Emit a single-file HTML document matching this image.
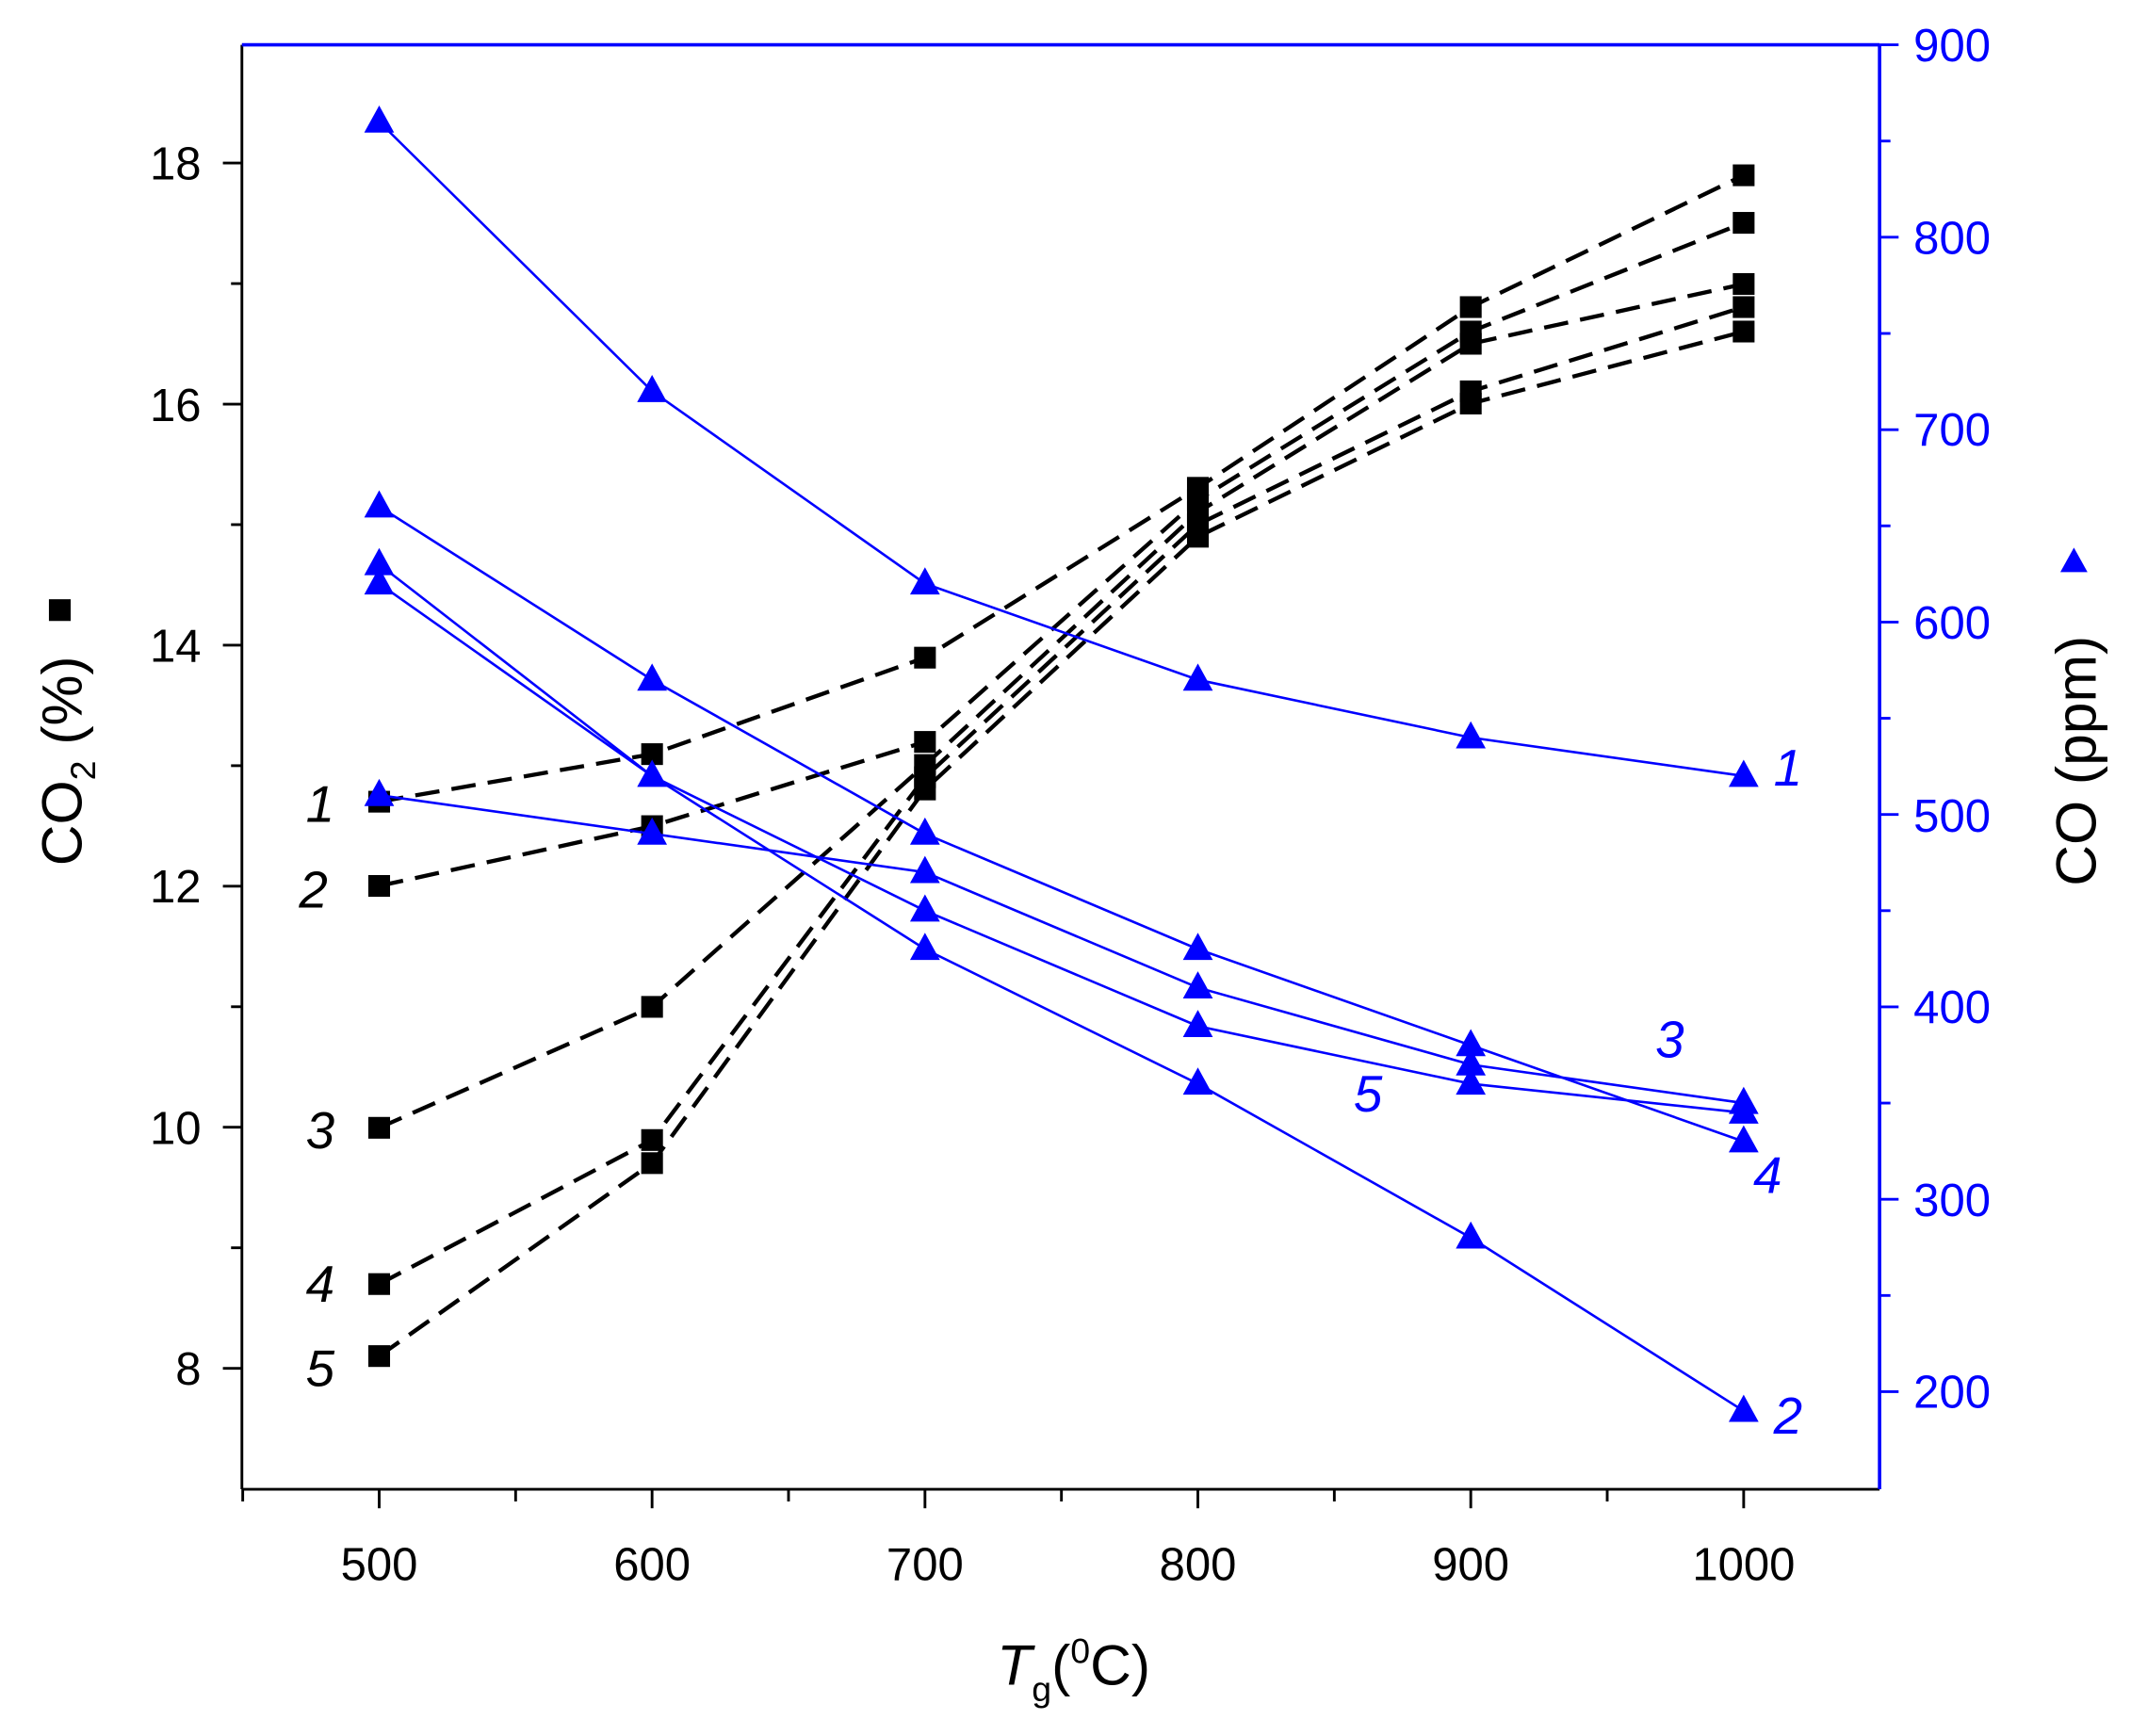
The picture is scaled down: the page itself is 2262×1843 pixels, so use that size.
<!DOCTYPE html>
<html><head><style>html,body{margin:0;padding:0;background:#fff}svg{display:block}</style></head>
<body>
<svg width="2262" height="1843" viewBox="0 0 1568 1277.6" preserveAspectRatio="none" xmlns="http://www.w3.org/2000/svg" font-family="Liberation Sans, Arial, sans-serif">
<rect width="1568" height="1277.6" fill="#fff"/>
<line x1="178" y1="33" x2="178" y2="1096" stroke="#000" stroke-width="2"/>
<line x1="178" y1="1096" x2="1383" y2="1096" stroke="#000" stroke-width="2"/>
<line x1="178" y1="33" x2="1383" y2="33" stroke="#00f" stroke-width="2.5"/>
<line x1="1383" y1="33" x2="1383" y2="1096" stroke="#00f" stroke-width="2.5"/>
<g stroke-width="2">
<g stroke="#000">
<line x1="178.6" y1="1096" x2="178.6" y2="1105"/><line x1="279" y1="1096" x2="279" y2="1110"/>
<line x1="379.4" y1="1096" x2="379.4" y2="1105"/><line x1="479.8" y1="1096" x2="479.8" y2="1110"/>
<line x1="580.2" y1="1096" x2="580.2" y2="1105"/><line x1="680.6" y1="1096" x2="680.6" y2="1110"/>
<line x1="781" y1="1096" x2="781" y2="1105"/><line x1="881.4" y1="1096" x2="881.4" y2="1110"/>
<line x1="981.8" y1="1096" x2="981.8" y2="1105"/><line x1="1082.2" y1="1096" x2="1082.2" y2="1110"/>
<line x1="1182.6" y1="1096" x2="1182.6" y2="1105"/><line x1="1283" y1="1096" x2="1283" y2="1110"/>
<line x1="164" y1="120" x2="178" y2="120"/><line x1="170" y1="208.7" x2="178" y2="208.7"/>
<line x1="164" y1="297.4" x2="178" y2="297.4"/><line x1="170" y1="386.1" x2="178" y2="386.1"/>
<line x1="164" y1="474.8" x2="178" y2="474.8"/><line x1="170" y1="563.5" x2="178" y2="563.5"/>
<line x1="164" y1="652.2" x2="178" y2="652.2"/><line x1="170" y1="740.9" x2="178" y2="740.9"/>
<line x1="164" y1="829.6" x2="178" y2="829.6"/><line x1="170" y1="918.3" x2="178" y2="918.3"/>
<line x1="164" y1="1007" x2="178" y2="1007"/>
</g>
<g stroke="#00f">
<line x1="1383" y1="33" x2="1397" y2="33"/><line x1="1383" y1="103.8" x2="1391" y2="103.8"/>
<line x1="1383" y1="174.6" x2="1397" y2="174.6"/><line x1="1383" y1="245.4" x2="1391" y2="245.4"/>
<line x1="1383" y1="316.2" x2="1397" y2="316.2"/><line x1="1383" y1="387" x2="1391" y2="387"/>
<line x1="1383" y1="457.8" x2="1397" y2="457.8"/><line x1="1383" y1="528.6" x2="1391" y2="528.6"/>
<line x1="1383" y1="599.4" x2="1397" y2="599.4"/><line x1="1383" y1="670.2" x2="1391" y2="670.2"/>
<line x1="1383" y1="741" x2="1397" y2="741"/><line x1="1383" y1="811.8" x2="1391" y2="811.8"/>
<line x1="1383" y1="882.6" x2="1397" y2="882.6"/><line x1="1383" y1="953.4" x2="1391" y2="953.4"/>
<line x1="1383" y1="1024.2" x2="1397" y2="1024.2"/>
</g>
</g>
<g font-size="34" fill="#000" text-anchor="middle">
<text x="279" y="1163">500</text><text x="479.8" y="1163">600</text><text x="680.6" y="1163">700</text>
<text x="881.4" y="1163">800</text><text x="1082.2" y="1163">900</text><text x="1283" y="1163">1000</text>
</g>
<g font-size="34" fill="#000" text-anchor="end">
<text x="148" y="132">18</text><text x="148" y="310">16</text><text x="148" y="487">14</text>
<text x="148" y="664">12</text><text x="148" y="842">10</text><text x="148" y="1019">8</text>
</g>
<g font-size="34" fill="#00f" text-anchor="start">
<text x="1408" y="45">900</text><text x="1408" y="187">800</text><text x="1408" y="328">700</text>
<text x="1408" y="470">600</text><text x="1408" y="612">500</text><text x="1408" y="753">400</text>
<text x="1408" y="895">300</text><text x="1408" y="1036">200</text>
</g>
<text x="790" y="1240" font-size="42" text-anchor="middle"><tspan font-style="italic">T</tspan><tspan font-size="26" dy="12">g</tspan><tspan dy="-12">(</tspan><tspan font-size="26" dy="-16">0</tspan><tspan dy="16">C)</tspan></text>
<g transform="translate(60,560) rotate(-90)"><text x="0" y="0" font-size="42" text-anchor="middle">CO<tspan font-size="26" dy="10">2</tspan><tspan dy="-10"> (%)</tspan></text></g>
<rect x="36" y="441" width="16" height="16" fill="#000"/>
<g transform="translate(1542,560) rotate(-90)"><text x="0" y="0" font-size="42" text-anchor="middle">CO (ppm)</text></g>
<polygon points="1526,403 1516,421 1536,421" fill="#00f"/>
<g fill="none" stroke="#000" stroke-width="3" stroke-dasharray="18,9">
<polyline points="279,590 479.8,555 680.6,484 881.4,359 1082.2,226 1283,129"/>
<polyline points="279,652 479.8,608 680.6,546 881.4,368 1082.2,244 1283,164"/>
<polyline points="279,830 479.8,741 680.6,563 881.4,377 1082.2,253 1283,209"/>
<polyline points="279,945 479.8,839 680.6,572 881.4,386 1082.2,288 1283,226"/>
<polyline points="279,998 479.8,856 680.6,581 881.4,395 1082.2,297 1283,244"/>
</g>
<g fill="#000">
<rect x="271" y="582" width="16" height="16"/><rect x="471.8" y="547" width="16" height="16"/><rect x="672.6" y="476" width="16" height="16"/><rect x="873.4" y="351" width="16" height="16"/><rect x="1074.2" y="218" width="16" height="16"/><rect x="1275" y="121" width="16" height="16"/>
<rect x="271" y="644" width="16" height="16"/><rect x="471.8" y="600" width="16" height="16"/><rect x="672.6" y="538" width="16" height="16"/><rect x="873.4" y="360" width="16" height="16"/><rect x="1074.2" y="236" width="16" height="16"/><rect x="1275" y="156" width="16" height="16"/>
<rect x="271" y="822" width="16" height="16"/><rect x="471.8" y="733" width="16" height="16"/><rect x="672.6" y="555" width="16" height="16"/><rect x="873.4" y="369" width="16" height="16"/><rect x="1074.2" y="245" width="16" height="16"/><rect x="1275" y="201" width="16" height="16"/>
<rect x="271" y="937" width="16" height="16"/><rect x="471.8" y="831" width="16" height="16"/><rect x="672.6" y="564" width="16" height="16"/><rect x="873.4" y="378" width="16" height="16"/><rect x="1074.2" y="280" width="16" height="16"/><rect x="1275" y="218" width="16" height="16"/>
<rect x="271" y="990" width="16" height="16"/><rect x="471.8" y="848" width="16" height="16"/><rect x="672.6" y="573" width="16" height="16"/><rect x="873.4" y="387" width="16" height="16"/><rect x="1074.2" y="289" width="16" height="16"/><rect x="1275" y="236" width="16" height="16"/>
</g>
<g fill="none" stroke="#00f" stroke-width="1.8">
<polyline points="279,89.6 479.8,287.9 680.6,429.5 881.4,500.3 1082.2,542.8 1283,571.1"/>
<polyline points="279,415.3 479.8,571.1 680.6,698.5 881.4,797.6 1082.2,910.9 1283,1038.4"/>
<polyline points="279,372.8 479.8,500.3 680.6,613.6 881.4,698.5 1082.2,769.3 1283,840.1"/>
<polyline points="279,585.2 479.8,613.6 680.6,641.9 881.4,726.8 1082.2,783.5 1283,811.8"/>
<polyline points="279,429.5 479.8,571.1 680.6,670.2 881.4,755.2 1082.2,797.6 1283,818.9"/>
</g>
<g fill="#00f">
<path d="M279,77.6l-11,20h22z M479.8,275.9l-11,20h22z M680.6,417.5l-11,20h22z M881.4,488.3l-11,20h22z M1082.2,530.8l-11,20h22z M1283,559.1l-11,20h22z"/>
<path d="M279,403.3l-11,20h22z M479.8,559.1l-11,20h22z M680.6,686.5l-11,20h22z M881.4,785.6l-11,20h22z M1082.2,898.9l-11,20h22z M1283,1026.4l-11,20h22z"/>
<path d="M279,360.8l-11,20h22z M479.8,488.3l-11,20h22z M680.6,601.6l-11,20h22z M881.4,686.5l-11,20h22z M1082.2,757.3l-11,20h22z M1283,828.1l-11,20h22z"/>
<path d="M279,573.2l-11,20h22z M479.8,601.6l-11,20h22z M680.6,629.9l-11,20h22z M881.4,714.8l-11,20h22z M1082.2,771.5l-11,20h22z M1283,799.8l-11,20h22z"/>
<path d="M279,417.5l-11,20h22z M680.6,658.2l-11,20h22z M881.4,743.2l-11,20h22z M1082.2,785.6l-11,20h22z M1283,806.9l-11,20h22z"/>
</g>
<g font-size="38" font-style="italic" fill="#000">
<text x="225" y="605">1</text><text x="220" y="668">2</text><text x="225" y="845">3</text><text x="225" y="958">4</text><text x="225" y="1020">5</text>
</g>
<g font-size="38" font-style="italic" fill="#00f">
<text x="1305" y="578">1</text><text x="1305" y="1055">2</text><text x="1218" y="778">3</text><text x="1290" y="878">4</text><text x="996" y="818">5</text>
</g>
</svg>
</body></html>
